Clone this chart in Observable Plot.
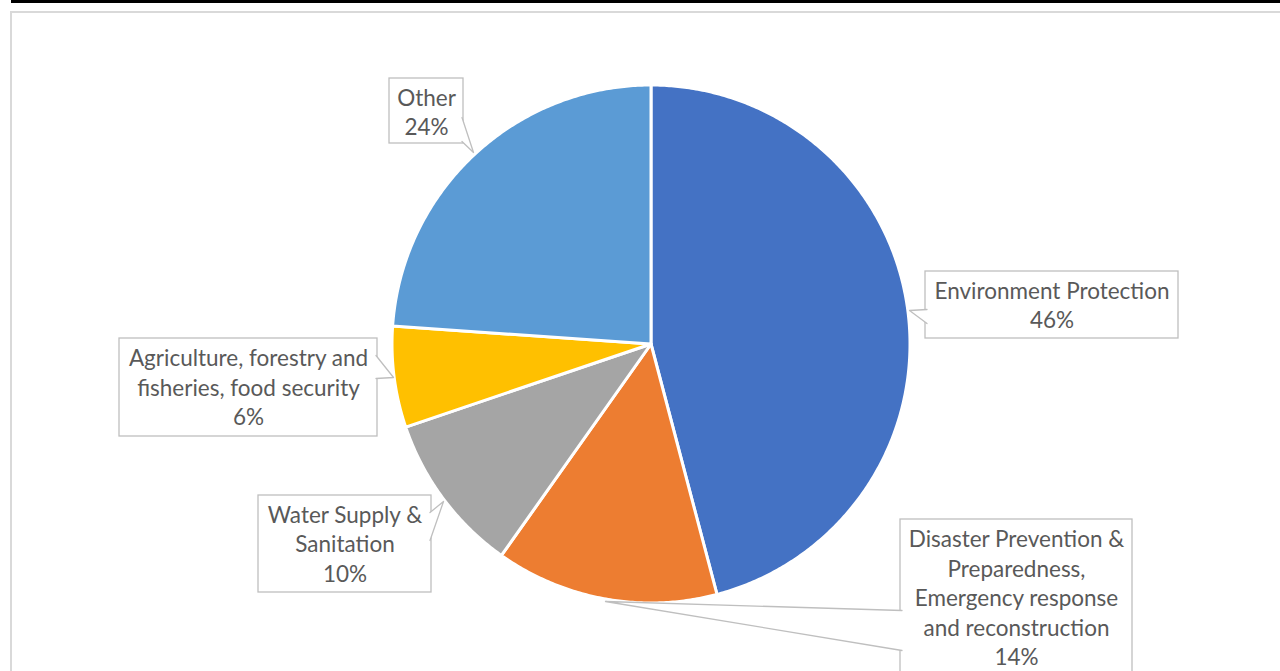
<!DOCTYPE html>
<html>
<head>
<meta charset="utf-8">
<script src="https://cdn.jsdelivr.net/npm/d3@7"></script>
<script src="https://cdn.jsdelivr.net/npm/@observablehq/plot@0.6"></script>
<style>
  html, body { margin: 0; padding: 0; background: white; overflow: hidden; }
  #chart svg { display: block; }
</style>
</head>
<body>
<div id="chart"></div>
<script>
// ---- data ----
const categories = [
  "Environment Protection",
  "Disaster Prevention & Preparedness, Emergency response and reconstruction",
  "Water Supply & Sanitation",
  "Agriculture, forestry and fisheries, food security",
  "Other"
];
const values = [45.9, 13.9, 10.0, 6.3, 23.9];
const labelLines = [
  "Environment Protection",
  "Disaster Prevention &\nPreparedness,\nEmergency response\nand reconstruction",
  "Water Supply &\nSanitation",
  "Agriculture, forestry and\nfisheries, food security",
  "Other"
];
const colors = ["#4472C4", "#ED7D31", "#A5A5A5", "#FFC000", "#5B9BD5"];

// ---- layout (pixels) ----
const W = 1280, H = 671;
const pieGeom = {cx: 650.5, cy: 343.5, r: 259};
const callouts = [
  {box: [925, 271, 1178, 338], wedge: [[926.5, 309], [909, 310], [926.5, 323]], text: [1051.5, 303.5]},
  {box: [900, 519, 1132, 680], wedge: [[901.5, 610], [605, 601], [901.5, 650]], text: [1016, 596.5]},
  {box: [258, 495, 431, 592], wedge: [[429.5, 512], [443, 501], [429.5, 540]], text: [344.5, 542.5]},
  {box: [119, 338, 377, 436], wedge: [[375.5, 355], [393, 377], [375.5, 378]], text: [248, 386]},
  {box: [389, 78, 463, 143], wedge: [[461.5, 117], [473, 152], [461.5, 141]], text: [426, 110.5]}
];
const frameBox = [11, 12, W + 20, H + 20];
const topLine = {y: 1, x1: 11, x2: W};
const topDividers = [12, 396, 709, 982];

// ---- build ----
const rows = categories.map((c, i) => ({category: c, value: values[i], label: labelLines[i] + "\n" + Math.round(values[i]) + "%"}));
const arcs = d3.pie().sort(null).value(d => d.value)(rows);
const slicePts = [];
arcs.forEach(a => {
  const {cx, cy, r} = pieGeom;
  slicePts.push({category: a.data.category, x: cx, y: cy});
  const n = Math.max(2, Math.ceil((a.endAngle - a.startAngle) / (Math.PI / 360)));
  for (let k = 0; k <= n; k++) {
    const t = a.startAngle + (a.endAngle - a.startAngle) * k / n;
    slicePts.push({category: a.data.category, x: cx + r * Math.sin(t), y: cy - r * Math.cos(t)});
  }
});

const boxes = rows.map((d, i) => ({category: d.category, x1: callouts[i].box[0], y1: callouts[i].box[1], x2: callouts[i].box[2], y2: callouts[i].box[3]}));
const wedgePts = rows.flatMap((d, i) => callouts[i].wedge.map(([x, y]) => ({category: d.category, x, y})));
const texts = rows.map((d, i) => ({label: d.label, x: callouts[i].text[0], y: callouts[i].text[1]}));

const chart = Plot.plot({
  width: W,
  height: H,
  margin: 0,
  x: {domain: [0, W], range: [0, W], axis: null},
  y: {domain: [0, H], range: [0, H], axis: null},
  color: {domain: categories, range: colors},
  style: {background: "white", fontFamily: "Lato, 'Open Sans', sans-serif", overflow: "hidden"},
  marks: [
    Plot.rect([frameBox], {x1: d => d[0], y1: d => d[1], x2: d => d[2], y2: d => d[3], fill: "none", stroke: "#D9D9D9", strokeWidth: 2}),
    Plot.ruleY([topLine], {y: "y", x1: "x1", x2: "x2", stroke: "black", strokeWidth: 3}),
    Plot.ruleX(topDividers, {x: d => d, y1: 0, y2: 3, stroke: "black", strokeWidth: 1}),
    Plot.line(slicePts, {x: "x", y: "y", z: "category", fill: "category", stroke: "white", strokeWidth: 3, strokeLinejoin: "round", curve: "linear-closed"}),
    Plot.rect(boxes, {x1: "x1", y1: "y1", x2: "x2", y2: "y2", fill: "white", stroke: "#BFBFBF", strokeWidth: 1.3}),
    Plot.line(wedgePts, {x: "x", y: "y", z: "category", fill: "white", stroke: "#BFBFBF", strokeWidth: 1.3}),
    Plot.text(texts, {x: "x", y: "y", text: "label", fill: "#595959", fontSize: 22.5, lineHeight: 1.31, lineAnchor: "middle", textAnchor: "middle"})
  ]
});
document.getElementById("chart").appendChild(chart);
</script>
</body>
</html>
